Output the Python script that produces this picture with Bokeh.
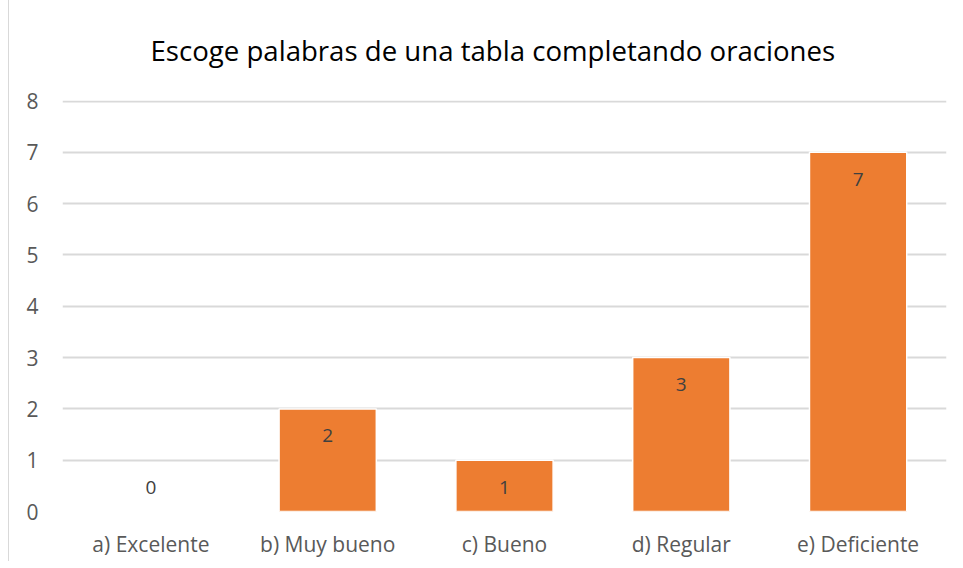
from bokeh.plotting import figure
from bokeh.models import ColumnDataSource, FactorRange, Range1d, SingleIntervalTicker
from bokeh.core.properties import value
from bokeh.embed import file_html
from bokeh.resources import INLINE

categories = ["a) Excelente", "b) Muy bueno", "c) Bueno", "d) Regular", "e) Deficiente"]
counts = [0, 2, 1, 3, 7]
title_text = "Escoge palabras de una tabla completando oraciones"

FONT = "Open Sans"
BAR = "#ED7D31"
GRID = "#d9d9d9"
TXT = "#595959"

p = figure(
    x_range=FactorRange(*categories, range_padding=0),
    y_range=Range1d(0, 8.01),
    frame_width=884, frame_height=411,
    min_border_left=53, min_border_right=10, min_border_top=93, min_border_bottom=50,
    output_backend="svg", toolbar_location=None,
    title=title_text,
)
p.styles = {"border-left": "1px solid #d9d9d9",
            "margin-left": "8px", "margin-top": "-4px"}
p.outline_line_color = None
p.title.text_font = FONT
p.title.text_font_size = "27.6px"
p.title.text_font_style = "normal"
p.title.text_color = "#000000"
p.title.align = "left"
p.title.offset = 88
p.title.standoff = 64

src = ColumnDataSource(dict(cat=categories, val=counts, lbl=[str(v) for v in counts]))
p.vbar(x="cat", top="val", width=0.55, source=src, fill_color=BAR,
       line_color="white", line_width=1.5)

nz = [i for i, v in enumerate(counts) if v != 0]
z = [i for i, v in enumerate(counts) if v == 0]
src_nz = ColumnDataSource(dict(cat=[categories[i] for i in nz], val=[counts[i] for i in nz],
                               lbl=[str(counts[i]) for i in nz]))
src_z = ColumnDataSource(dict(cat=[categories[i] for i in z], val=[counts[i] for i in z],
                              lbl=[str(counts[i]) for i in z]))
p.text(x="cat", y="val", text="lbl", source=src_nz, text_align="center",
       text_baseline="middle", y_offset=27, text_font=value(FONT),
       text_font_size="19px", text_color="#404040")
p.text(x="cat", y="val", text="lbl", source=src_z, text_align="center",
       text_baseline="middle", y_offset=-24, text_font=value(FONT),
       text_font_size="19px", text_color="#404040")

p.xgrid.grid_line_color = None
p.ygrid.grid_line_color = GRID
p.ygrid.grid_line_width = 2
p.yaxis.ticker = SingleIntervalTicker(interval=1)
for ax in (p.xaxis[0], p.yaxis[0]):
    ax.axis_line_color = None
    ax.major_tick_line_color = None
    ax.minor_tick_line_color = None
    ax.major_label_text_font = FONT
    ax.major_label_text_font_size = "21px"
    ax.major_label_text_color = TXT
p.yaxis.major_label_standoff = 18
p.xaxis.major_label_standoff = 12

open("out.html", "w").write(file_html(p, INLINE))
